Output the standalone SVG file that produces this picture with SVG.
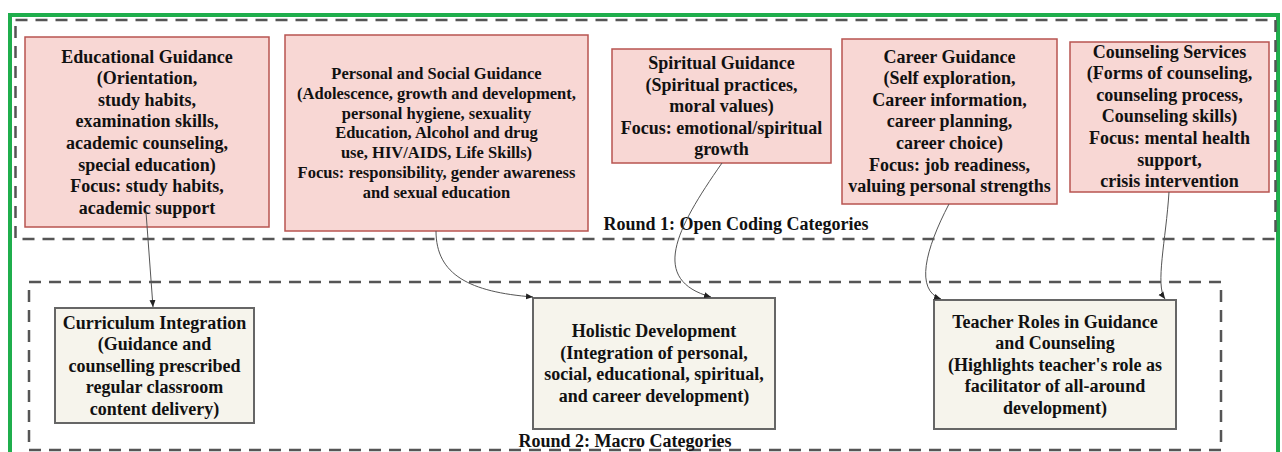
<svg xmlns="http://www.w3.org/2000/svg" width="1282" height="452" viewBox="0 0 1282 452">
<style>
text{font-family:"Liberation Serif","Times New Roman",serif;font-weight:bold;fill:#111;text-anchor:middle;}
.t18{font-size:18px;}
.t16{font-size:16.5px;}
.r1{fill:#f8d7d4;stroke:#b85450;stroke-width:1.5;}
.r2{fill:#f6f4ec;stroke:#666;stroke-width:2;}
.grp{fill:none;stroke:#555;stroke-width:2.5;stroke-dasharray:12 8;}
.conn{fill:none;stroke:#555;stroke-width:1;marker-end:url(#arr);}
</style>
<defs>
<marker id="arr" markerWidth="8" markerHeight="8" refX="7" refY="4" orient="auto" markerUnits="userSpaceOnUse">
<path d="M0,1 L7,4 L0,7 Z" fill="#222"/>
</marker>
</defs>
<rect x="0" y="0" width="1282" height="452" fill="#fff"/>
<rect x="10" y="15" width="1268" height="470" fill="none" stroke="#1fae4c" stroke-width="4"/>
<g id="round1">
<rect class="grp" x="15.5" y="20" width="1260" height="219"/>
<text class="t18" x="736" y="230">Round 1: Open Coding Categories</text>
</g>
<g id="round2">
<rect class="grp" x="29" y="282" width="1192" height="168"/>
<text class="t18" x="625" y="447">Round 2: Macro Categories</text>
</g>
<g id="educational">
<rect class="r1" x="25" y="37" width="244" height="190"/>
<text class="t18" x="147" y="62.5">Educational Guidance</text>
<text class="t18" x="147" y="84.1">(Orientation,</text>
<text class="t18" x="147" y="105.7">study habits,</text>
<text class="t18" x="147" y="127.3">examination skills,</text>
<text class="t18" x="147" y="148.9">academic counseling,</text>
<text class="t18" x="147" y="170.5">special education)</text>
<text class="t18" x="147" y="192.1">Focus: study habits,</text>
<text class="t18" x="147" y="213.7">academic support</text>
</g>
<g id="personal">
<rect class="r1" x="285" y="35" width="303" height="196"/>
<text class="t16" x="436.5" y="79">Personal and Social Guidance</text>
<text class="t16" x="436.5" y="98.8">(Adolescence, growth and development,</text>
<text class="t16" x="436.5" y="118.6">personal hygiene, sexuality</text>
<text class="t16" x="436.5" y="138.4">Education, Alcohol and drug</text>
<text class="t16" x="436.5" y="158.2">use, HIV/AIDS, Life Skills)</text>
<text class="t16" x="436.5" y="178">Focus: responsibility, gender awareness</text>
<text class="t16" x="436.5" y="197.8">and sexual education</text>
</g>
<g id="spiritual">
<rect class="r1" x="612" y="49" width="219" height="114"/>
<text class="t18" x="721.5" y="69">Spiritual Guidance</text>
<text class="t18" x="721.5" y="90.6">(Spiritual practices,</text>
<text class="t18" x="721.5" y="112.2">moral values)</text>
<text class="t18" x="721.5" y="133.8">Focus: emotional/spiritual</text>
<text class="t18" x="721.5" y="155.4">growth</text>
</g>
<g id="career">
<rect class="r1" x="842" y="39" width="215" height="165"/>
<text class="t18" x="949.5" y="62.5">Career Guidance</text>
<text class="t18" x="949.5" y="84.1">(Self exploration,</text>
<text class="t18" x="949.5" y="105.7">Career information,</text>
<text class="t18" x="949.5" y="127.3">career planning,</text>
<text class="t18" x="949.5" y="148.9">career choice)</text>
<text class="t18" x="949.5" y="170.5">Focus: job readiness,</text>
<text class="t18" x="949.5" y="192.1">valuing personal strengths</text>
</g>
<g id="counseling">
<rect class="r1" x="1070" y="42" width="199" height="150"/>
<text class="t18" x="1169.5" y="57.5">Counseling Services</text>
<text class="t18" x="1169.5" y="79.1">(Forms of counseling,</text>
<text class="t18" x="1169.5" y="100.7">counseling process,</text>
<text class="t18" x="1169.5" y="122.3">Counseling skills)</text>
<text class="t18" x="1169.5" y="143.9">Focus: mental health</text>
<text class="t18" x="1169.5" y="165.5">support,</text>
<text class="t18" x="1169.5" y="187.1">crisis intervention</text>
</g>
<g id="curriculum">
<rect class="r2" x="55" y="308" width="199" height="115"/>
<text class="t18" x="154.5" y="328.5">Curriculum Integration</text>
<text class="t18" x="154.5" y="350.1">(Guidance and</text>
<text class="t18" x="154.5" y="371.7">counselling prescribed</text>
<text class="t18" x="154.5" y="393.3">regular classroom</text>
<text class="t18" x="154.5" y="414.9">content delivery)</text>
</g>
<g id="holistic">
<rect class="r2" x="533" y="298" width="242" height="131"/>
<text class="t18" x="654" y="337">Holistic Development</text>
<text class="t18" x="654" y="358.6">(Integration of personal,</text>
<text class="t18" x="654" y="380.2">social, educational, spiritual,</text>
<text class="t18" x="654" y="401.8">and career development)</text>
</g>
<g id="teacher">
<rect class="r2" x="934" y="300" width="242" height="129"/>
<text class="t18" x="1055" y="327.5">Teacher Roles in Guidance</text>
<text class="t18" x="1055" y="349.1">and Counseling</text>
<text class="t18" x="1055" y="370.7">(Highlights teacher's role as</text>
<text class="t18" x="1055" y="392.3">facilitator of all-around</text>
<text class="t18" x="1055" y="413.9">development)</text>
</g>
<g id="connectors">
<path class="conn" d="M146,212 L153,307"/>
<path class="conn" d="M436,231 C436,275 470,292 533,297"/>
<path class="conn" d="M722,163 C675,230 650,280 711,297"/>
<path class="conn" d="M949,204 C925,250 915,290 941,299"/>
<path class="conn" d="M1169,192 C1166,240 1155,285 1165,299"/>
</g>
</svg>
